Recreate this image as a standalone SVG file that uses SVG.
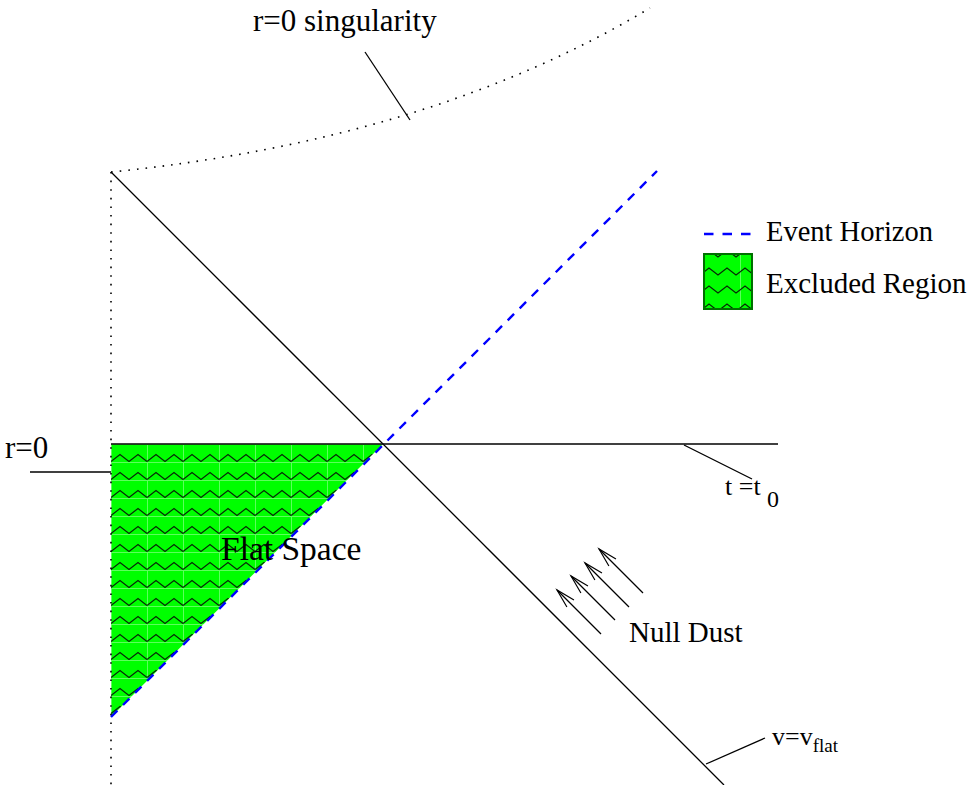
<svg xmlns="http://www.w3.org/2000/svg" width="971" height="785" viewBox="0 0 971 785">
<style>
.t{font-family:"Liberation Serif","Times New Roman",serif;fill:#000}
.ln{stroke:#000;stroke-width:1.3;fill:none}
.dot{stroke:#000;stroke-width:1.6;fill:none;stroke-dasharray:1.6 7}
.eh{stroke:#0000ff;stroke-width:2.4;fill:none;stroke-dasharray:9 8}
</style>
<defs>
<pattern id="zig" patternUnits="userSpaceOnUse" x="111" y="444" width="36" height="18">
<rect width="36" height="18" fill="#00ff00"/>
<path d="M0 0.5H36M0.5 0V18" stroke="#5cff5c" stroke-width="1"/>
<polyline points="0,17.5 9,10.5 18,17.5 27,10.5 36,17.5" fill="none" stroke="#062806" stroke-width="1.2"/>
</pattern>
<pattern id="zigL" patternUnits="userSpaceOnUse" x="704" y="258" width="36" height="18">
<rect width="36" height="18" fill="#00ff00"/>
<path d="M0.5 0V18" stroke="#5cff5c" stroke-width="1"/>
<polyline points="-4,17 5,10 14,17 23,10 32,17 41,10" fill="none" stroke="#062806" stroke-width="1.2"/>
</pattern>
<marker id="ah" markerUnits="userSpaceOnUse" markerWidth="30" markerHeight="30" refX="0" refY="0" viewBox="-25 -15 30 30" orient="auto" overflow="visible">
<path d="M-19,-5 L0,0 L-19,5" fill="none" stroke="#000" stroke-width="1.2"/>
</marker>
</defs>

<g id="excluded-region">
<polygon points="111,444 383,444 111,717" fill="url(#zig)"/>
</g>

<g id="connectors">
<path id="singularity" class="dot" d="M111,172 Q430,140 650,8"/>
<line id="r0-axis" class="dot" x1="111" y1="172" x2="111" y2="785"/>
<line id="null-diagonal" class="ln" x1="111" y1="172" x2="724" y2="785"/>
<line id="t0-line" class="ln" x1="111" y1="444" x2="778" y2="444"/>
<line id="event-horizon" class="eh" x1="111" y1="717" x2="657" y2="171"/>
<line id="lead-sing" class="ln" x1="365" y1="52" x2="410" y2="120"/>
<line id="lead-r0" class="ln" x1="30" y1="472" x2="111" y2="472"/>
<line id="lead-t0" class="ln" x1="684" y1="445" x2="752" y2="479"/>
<line id="lead-v" class="ln" x1="706" y1="764" x2="765" y2="738"/>
<g id="null-dust-arrows" class="ln" marker-end="url(#ah)">
<line x1="601" y1="634" x2="557" y2="590"/>
<line x1="615" y1="620" x2="571" y2="576"/>
<line x1="629" y1="607" x2="585" y2="563"/>
<line x1="643" y1="593" x2="599" y2="549"/>
</g>
</g>

<g id="label-singularity"><text class="t" x="253" y="31" font-size="31">r=0 singularity</text></g>
<g id="label-r0"><text class="t" x="5" y="458" font-size="31">r=0</text></g>
<g id="label-t0"><text class="t" x="725" y="495" font-size="26">t =t<tspan x="767" y="507" font-size="24">0</tspan></text></g>
<g id="label-flat"><text class="t" x="221" y="560" font-size="33.5">Flat Space</text></g>
<g id="label-null"><text class="t" x="629" y="642" font-size="29">Null Dust</text></g>
<g id="label-v"><text class="t" x="772" y="745" font-size="26">v=v<tspan y="752" font-size="19">flat</tspan></text></g>

<g id="legend">
<g id="legend-eh">
<line class="eh" x1="704" y1="234" x2="752" y2="234" style="stroke-dasharray:9.5 9"/>
<text class="t" x="766" y="241" font-size="28.5">Event Horizon</text>
</g>
<g id="legend-excluded">
<rect x="704" y="254" width="48" height="55" fill="url(#zigL)" stroke="#007000" stroke-width="2"/>
<text class="t" x="766" y="293" font-size="29">Excluded Region</text>
</g>
</g>
</svg>
